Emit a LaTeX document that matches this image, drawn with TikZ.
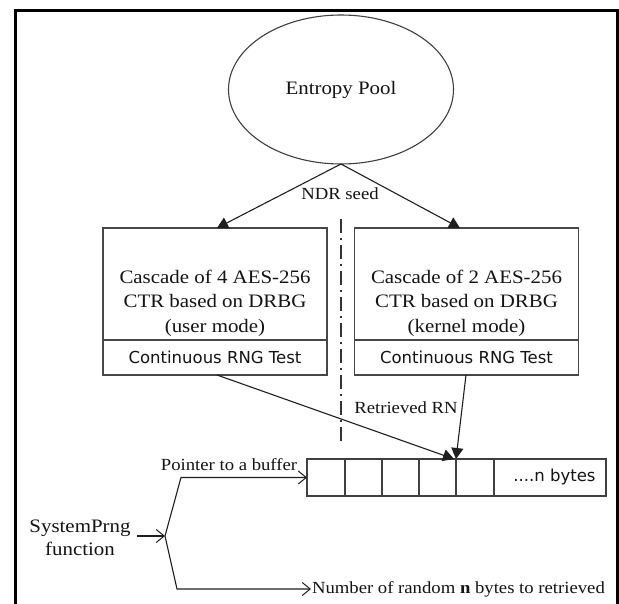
\documentclass[tikz,border=0pt]{standalone}
\usepackage{fontspec}
\setmainfont[FakeStretch=1.1]{Liberation Serif}
\newfontfamily\guisans{DejaVu Sans}
\usetikzlibrary{arrows.meta,shapes.geometric,calc}

\begin{document}
\begin{tikzpicture}[x=1pt,y=-1pt,
  every node/.style={inner sep=0pt, outer sep=0pt, text=black!92},
  link/.style={draw=black!88, line width=1.1pt},
  filltip/.style={-{Triangle[length=11pt,width=12pt]}},
  barbtip/.style={-{Straight Barb[length=8pt,width=13pt,line width=1pt]}},
  pool/.style={ellipse, draw=black!75, line width=1.1pt,
    minimum width=225pt, minimum height=149pt, font=\fontsize{19}{23}\selectfont},
  drbg/.style={rectangle, draw=black!72, line width=1.3pt,
    minimum width=224pt, minimum height=112pt},
  rngtest/.style={rectangle, draw=black!72, line width=1.3pt,
    minimum width=224pt, minimum height=35pt,
    font=\guisans\fontsize{16.5}{20}\selectfont},
  cell/.style={rectangle, draw=black!75, line width=1.1pt, minimum height=37pt},
  lbl/.style={font=\fontsize{17}{23}\selectfont},
  boxtext/.style={font=\fontsize{19}{24.5}\selectfont, align=center},
]
\useasboundingbox (0,0) rectangle (619,604);
\fill[white] (0,0) rectangle (619,604);

% outer frame, open at the bottom
\draw[line width=2.8pt, black] (15.3,604) -- (15.3,10.7) -- (617.3,10.7) -- (617.3,604);

% entropy source
\node[pool] (pool) at (341,89.5) {Entropy Pool};
\node[lbl] (seed) at (340,194) {NDR seed};

% user-mode and kernel-mode generators
\node[drbg] (utop) at (215,284) {};
\node[rngtest] (ubot) at (215,357.5) {Continuous RNG Test};
\node[boxtext] (utxt) at (215,303) {Cascade of 4 AES-256\\CTR based on DRBG\\(user mode)};

\node[drbg] (ktop) at (466.5,284) {};
\node[rngtest] (kbot) at (466.5,357.5) {Continuous RNG Test};
\node[boxtext] (ktxt) at (466.5,303) {Cascade of 2 AES-256\\CTR based on DRBG\\(kernel mode)};

% user / kernel boundary
\coordinate (divtop) at (341,219);
\coordinate (divbot) at (341,442);
\draw[black!80, line width=1.3pt, dash pattern=on 14pt off 5pt on 2pt off 5pt] (divtop) -- (divbot);

% output buffer
\node[cell, minimum width=38pt] (c1) at (326,477.5) {};
\node[cell, minimum width=37pt] (c2) at (363.5,477.5) {};
\node[cell, minimum width=37pt] (c3) at (400.5,477.5) {};
\node[cell, minimum width=37pt] (c4) at (437.5,477.5) {};
\node[cell, minimum width=38pt] (c5) at (475,477.5) {};
\node[cell, minimum width=112pt] (c6) at (550,477.5) {};
\node[font=\guisans\fontsize{16.5}{20}\selectfont] (nbytes) at (554.5,477) {....n bytes};

\node[lbl] (rn) at (406,408) {Retrieved RN};

% seeding
\draw[link, filltip] (pool.south) -- ([xshift=2pt]utop.north);
\draw[link, filltip] (pool.south) -- ([xshift=-6.5pt]ktop.north);

% retrieved random numbers
\draw[link, filltip] ([xshift=2pt]ubot.south) -- ([xshift=-2pt]c5.north west);
\draw[link, filltip] ([xshift=-0.5pt]kbot.south) -- (c5.north west);

% SystemPrng call and its two arguments
\node[lbl, align=center, font=\fontsize{19}{23}\selectfont] (sysprng) at (80,538) {SystemPrng\\function};
\coordinate (callout) at (137,536);
\coordinate (fork) at (165,536);
\coordinate (upbend) at (181,477.5);
\coordinate (lowbend) at (177,589);
\coordinate (lowend) at (311,589);

\draw[link, barbtip] (callout) -- (fork);
\draw[link, barbtip] (fork) -- (upbend) -- (c1.west);
\draw[link, barbtip] (fork) -- (lowbend) -- (lowend);

\node[lbl] (ptr) at (229,465) {Pointer to a buffer};
\node[lbl, anchor=west] (count) at (312,589) {Number of random \textbf{n} bytes to retrieved};
\end{tikzpicture}
\end{document}
